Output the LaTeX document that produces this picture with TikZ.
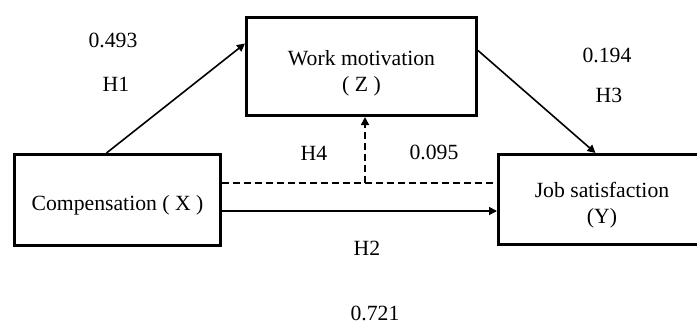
\documentclass[tikz,border=0pt]{standalone}
\usepackage{fontspec}
\setmainfont{Liberation Serif}
\usetikzlibrary{arrows.meta,calc}
\begin{document}
\begin{tikzpicture}[x=0.5pt,y=-0.5pt,
  every node/.style={font=\fontsize{10.85}{13}\selectfont},
  box/.style={draw,line width=1.5pt,align=center,inner sep=0pt},
  lbl/.style={anchor=base,inner sep=0pt},
  arr/.style={line width=0.8pt,-{Triangle[length=4pt,width=4pt]}},
  link/.style={line width=0.8pt},
  dsh/.style={dash pattern=on 3.5pt off 2pt}]
\useasboundingbox (0,0) rectangle (697,322);
\node[box,minimum width=103pt,minimum height=45.5pt] (comp) at (117.5,200) {\rule{0pt}{12.5pt}Compensation ( X )};
\node[box,minimum width=115pt,minimum height=49pt] (work) at (361.5,66.5) {\rule{0pt}{14.5pt}Work motivation\\( Z )};
\node[box,minimum width=103.5pt,minimum height=45pt] (job) at (602,199.5) {\rule{0pt}{13.5pt}Job satisfaction\\(Y)};
% connectors
\draw[arr] ($(comp.north west)+(93.5,0)$) -- ($(work.north west)+(0,27.5)$);
\draw[arr] ($(work.north east)+(0,34.5)$) -- ($(job.north west)+(98.5,0)$);
\coordinate (h2) at (0,211);
\draw[arr] (comp.east |- h2) -- (job.west |- h2);
\coordinate (h4) at (0,183);
\draw[link,dsh] (comp.east |- h4) -- (job.west |- h4);
\coordinate (m) at (365,183);
\draw[arr,dsh] (m) -- (m |- work.south);
% labels
\node[lbl] (l1) at (113,47) {0.493};
\node[lbl] (l2) at (116,91) {H1};
\node[lbl] (l3) at (314,160) {H4};
\node[lbl] (l4) at (434,159) {0.095};
\node[lbl] (l5) at (607,62) {0.194};
\node[lbl] (l6) at (609,102) {H3};
\node[lbl] (l7) at (367,255) {H2};
\node[lbl] (l8) at (375,320) {0.721};
\end{tikzpicture}
\end{document}
